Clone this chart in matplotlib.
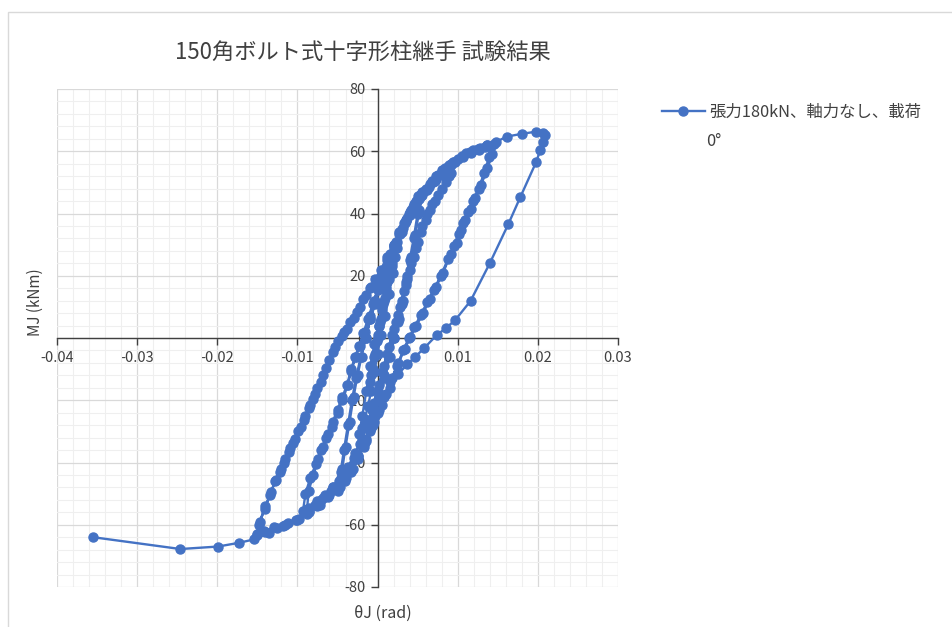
import matplotlib
matplotlib.use('Agg')
import matplotlib.pyplot as plt
from matplotlib.ticker import MultipleLocator, FuncFormatter
from matplotlib.patches import Rectangle

plt.rcParams['font.family'] = ['Noto Sans CJK JP', 'DejaVu Sans']

# 各サイクルの回転角 θJ (rad) と曲げモーメント MJ (kNm)
theta_c1 = [0, 0.0003, 0.0006, 0.0009, 0.0011, 0.0008, 0.0004, 0.0001, -0.0003, -0.0006, -0.0009, -0.0011,
            -0.0008, -0.0004, -0.0001]
m_c1 = [0, 5, 9, 13, 16, 12, 6, 1, -5, -10, -14, -17, -12, -6, -1]

theta_c2 = [0.0002, 0.0006, 0.001, 0.0014, 0.0018, 0.0022, 0.0019, 0.0014, 0.0009, 0.0004, 0.0, -0.0004,
            -0.0008, -0.0012, -0.0016, -0.002, -0.0023, -0.0019, -0.0014, -0.0009, -0.0004]
m_c2 = [4, 10, 15, 19, 23, 26, 21, 14, 7, 1, -5, -11, -17, -22, -26, -29, -31, -25, -17, -9, -2]

theta_c3 = [0.0002, 0.0007, 0.0012, 0.0018, 0.0024, 0.003, 0.0036, 0.0042, 0.0048, 0.0053, 0.005, 0.0045,
            0.004, 0.0035, 0.003, 0.0025, 0.002, 0.0014, 0.0008, 0.0002, -0.0004, -0.001, -0.0017, -0.0024,
            -0.0031, -0.0039, -0.0047, -0.0044, -0.004, -0.0035, -0.003, -0.0025, -0.002, -0.0015, -0.0009,
            -0.0003]
m_c3 = [4, 11, 18, 24, 29, 34, 38, 41, 44, 46, 40, 32, 25, 18, 11, 5, 0, -6, -12, -18, -24, -29, -34, -38,
        -42, -45, -48, -42, -35, -27, -19, -12, -6, 0, 6, 11]

theta_c4 = [0.0003, 0.0009, 0.0015, 0.0021, 0.0027, 0.0033, 0.0039, 0.0045, 0.0051, 0.0055, 0.0052, 0.0047,
            0.0042, 0.0037, 0.0032, 0.0027, 0.0021, 0.0015, 0.0009, 0.0003, -0.0003, -0.001, -0.0017, -0.0025,
            -0.0033, -0.0041, -0.0049, -0.0046, -0.0042, -0.0037, -0.0032, -0.0027, -0.0021, -0.0015, -0.0009,
            -0.0003]
m_c4 = [16, 21, 26, 30, 34, 37, 40, 43, 45.5, 47, 41, 33, 26, 19, 12, 6, 0, -6, -13, -19, -25, -30, -35, -39,
        -43, -46, -49, -43, -36, -28, -20, -13, -6, 0, 6, 12]

theta_c5 = [0.0003, 0.0009, 0.0016, 0.0023, 0.003, 0.0037, 0.0044, 0.0052, 0.006, 0.0068, 0.0076, 0.0084,
            0.0092, 0.0089, 0.0081, 0.0072, 0.0065, 0.006, 0.0054, 0.0048, 0.0042, 0.0037, 0.0033, 0.0028,
            0.0023, 0.0018, 0.0012, 0.0006, 0.0, -0.0007, -0.0014, -0.0022, -0.003, -0.0039, -0.0048, -0.0058,
            -0.0068, -0.0078, -0.0088, -0.0086, -0.008, -0.0074, -0.0068, -0.0062, -0.0056, -0.005, -0.0044,
            -0.0038, -0.0033, -0.0028, -0.0023, -0.0018, -0.0012, -0.0006]
m_c5 = [17, 22, 27, 31, 35, 38.5, 42, 45, 48, 50.5, 52.5, 54.5, 56, 52, 48, 44, 41, 38, 34, 29, 24, 20, 15,
        10, 5, 1, -5, -11, -17, -23, -29, -34, -38.5, -42.5, -46, -49, -51.5, -53.5, -55, -49, -44, -39, -35,
        -31, -27, -23, -19, -15, -10, -6, -2.5, 1.5, 6, 11]

theta_c6 = [0.0, 0.0006, 0.0013, 0.002, 0.0027, 0.0034, 0.0041, 0.0049, 0.0057, 0.0065, 0.0073, 0.0081,
            0.0089, 0.0095, 0.0092, 0.0085, 0.0076, 0.0068, 0.0062, 0.0056, 0.005, 0.0045, 0.004, 0.0035,
            0.003, 0.0025, 0.002, 0.0014, 0.0008, 0.0002, -0.0005, -0.0012, -0.002, -0.0028, -0.0037, -0.0046,
            -0.0056, -0.0066, -0.0076, -0.0086, -0.0093, -0.009, -0.0084, -0.0077, -0.0071, -0.0064, -0.0057,
            -0.005, -0.0044, -0.0037, -0.0033, -0.0027, -0.0022, -0.0016, -0.001, -0.0004]
m_c6 = [15.5, 20, 25, 29.5, 33.5, 37, 40.5, 44, 47, 49.5, 52, 54, 55.5, 56.5, 53, 50, 46, 43, 40, 36, 31,
        26, 22, 17, 12, 7.5, 3, -3, -9, -15, -21, -27, -32.5, -37, -41.5, -45, -48, -50.5, -52.5, -54.5,
        -55.5, -50, -45, -40.5, -36, -32, -28.5, -24, -20, -15, -10.5, -6, -2.5, 2, 7, 12]

theta_c7 = [0.0002, 0.0009, 0.0016, 0.0024, 0.0032, 0.004, 0.0048, 0.0056, 0.0064, 0.0073, 0.0082, 0.0091,
            0.01, 0.011, 0.0119, 0.0128, 0.0137, 0.0145, 0.0143, 0.0137, 0.0129, 0.0122, 0.0116, 0.0109,
            0.0104, 0.0099, 0.0091, 0.0082, 0.0073, 0.0065, 0.0057, 0.0048, 0.0041, 0.0034, 0.0026, 0.0018,
            0.001, 0.0002, -0.0006, -0.0015, -0.0025, -0.0036, -0.0048, -0.006, -0.0072, -0.0085, -0.0098,
            -0.0112, -0.0126, -0.014, -0.0151, -0.0148, -0.0141, -0.0134, -0.0128, -0.0122, -0.0117, -0.0111,
            -0.0106, -0.0099, -0.0092, -0.0086, -0.0081, -0.0075, -0.0068, -0.006, -0.0053, -0.0044, -0.0038,
            -0.003, -0.0022, -0.0015, -0.0008, -0.0002, 0.0005]
m_c7 = [17, 22, 26.5, 31, 35.5, 39.5, 43, 46, 48.5, 51, 53.5, 55.5, 57.5, 59.3, 60.4, 61.2, 62, 62.4, 59,
        54.5, 49, 45, 41.5, 38, 34.7, 30.5, 27, 21, 16.5, 12.5, 8, 3.8, 0.4, -3.5, -8, -13, -18, -23, -28,
        -33, -38, -42.5, -47, -50.5, -53.5, -56, -58, -59.5, -61, -62.3, -63.3, -60, -55, -50.5, -46, -43,
        -40, -36.5, -33.6, -30, -26.3, -22.5, -19.7, -16, -11.9, -7, -2.8, 0.5, 3, 6.3, 10, 13.8, 16.5,
        18.6, 21.5]

theta_c8 = [0.0012, 0.002, 0.0028, 0.0036, 0.0044, 0.0052, 0.006, 0.0069, 0.0078, 0.0087, 0.0096, 0.0106,
            0.0116, 0.0126, 0.0134, 0.0141, 0.0139, 0.0133, 0.0126, 0.0119, 0.0113, 0.0107, 0.0101, 0.0095,
            0.0088, 0.0079, 0.007, 0.0062, 0.0054, 0.0046, 0.0039, 0.0032, 0.0024, 0.0016, 0.0008, 0.0,
            -0.0008, -0.0017, -0.0027, -0.0038, -0.005, -0.0062, -0.0075, -0.0088, -0.0101, -0.0115, -0.0129,
            -0.0142, -0.015, -0.0147, -0.014, -0.0133, -0.0127, -0.0121, -0.0115, -0.0109, -0.0103, -0.0096,
            -0.009, -0.0084, -0.0078, -0.0071, -0.0064, -0.0056, -0.0049, -0.0042, -0.0034, -0.0026, -0.0018,
            -0.001, -0.0003, 0.0004, 0.0012]
m_c8 = [25, 29, 33.5, 37.5, 41, 44.5, 47.5, 50, 52.5, 54.5, 56.5, 58.3, 59.5, 60.5, 61.3, 61.8, 58, 53, 48,
        44, 40.5, 37, 33.5, 29.5, 25.5, 20, 15.5, 11.5, 7.5, 3.5, 0, -4, -9, -14, -19, -24, -29, -34, -39,
        -43.5, -47.5, -51, -54, -56.5, -58.5, -60, -60.8, -62, -63, -59, -54, -49.5, -45.5, -42, -39, -35.5,
        -32.5, -28.5, -25, -21.5, -18, -14, -9.5, -4.5, -1, 2, 5, 8.5, 12.5, 16, 19, 22, 26]

theta_c9 = [0.002, 0.0028, 0.0036, 0.0045, 0.0054, 0.0062, 0.0072, 0.0081, 0.0094, 0.0105, 0.0115, 0.0125,
            0.0137, 0.0148, 0.0161, 0.018, 0.0198, 0.0206, 0.0209, 0.0206, 0.0203, 0.0198, 0.0178, 0.0163,
            0.014, 0.0116, 0.0097, 0.0085, 0.0074, 0.0058, 0.0047, 0.0037, 0.0026, 0.0016, 0.0006, -0.0004,
            -0.0014, -0.0026, -0.004, -0.0055, -0.007, -0.0086, -0.0102, -0.0118, -0.0135, -0.0154, -0.0173,
            -0.0199, -0.0246, -0.0355]
m_c9 = [30, 34, 38, 42.5, 45.5, 47.5, 50.5, 53.4, 56.6, 58.5, 59.8, 60.8, 62, 63, 64.7, 65.6, 66.3, 66, 65.2,
        63, 60.4, 56.6, 45.2, 36.5, 24, 11.9, 5.8, 3.1, 1, -3.3, -6, -8.5, -11.5, -16, -21.5, -27, -32.5,
        -38, -43.5, -48, -52, -55.5, -58.5, -60.5, -62.5, -64.7, -65.8, -67, -67.8, -64]

theta = (theta_c1 + theta_c2 + theta_c3 + theta_c4 + theta_c5 + theta_c6 + theta_c7 + theta_c8 + theta_c9)
moment = (m_c1 + m_c2 + m_c3 + m_c4 + m_c5 + m_c6 + m_c7 + m_c8 + m_c9)

title = '150角ボルト式十字形柱継手 試験結果'
series_label = ['張力180kN、軸力なし、載荷', '0°']   # 凡例は2行に折り返し
x_label = 'θJ (rad)'
y_label = 'MJ (kNm)'

blue = '#4472C4'
axis_col = '#404040'
text_col = '#404040'

fig = plt.figure(figsize=(9.52, 6.27), dpi=100)

# グラフエリアの枠線
fig.patches.append(Rectangle((8 / 952, -0.05), 1.2, 1 - 12 / 627 + 0.05, transform=fig.transFigure,
                             fill=False, edgecolor='#d9d9d9', lw=1.0))

ax = fig.add_axes([57 / 952, 1 - 587 / 627, (618 - 57) / 952, (587 - 89) / 627])
line, = ax.plot(theta, moment, color=blue, lw=1.7, marker='o', markersize=6.5,
                markerfacecolor=blue, markeredgecolor=blue, zorder=3)

ax.set_xlim(-0.04, 0.03)
ax.set_ylim(-80, 80)
ax.xaxis.set_major_locator(MultipleLocator(0.01))
ax.xaxis.set_minor_locator(MultipleLocator(0.002))
ax.yaxis.set_major_locator(MultipleLocator(20))
ax.yaxis.set_minor_locator(MultipleLocator(4))
ax.xaxis.set_major_formatter(FuncFormatter(lambda v, p: '%g' % round(v, 3)))
ax.yaxis.set_major_formatter(FuncFormatter(lambda v, p: '%g' % round(v)))

ax.set_axisbelow(True)
ax.grid(which='major', color='#d9d9d9', lw=0.9)
ax.grid(which='minor', color='#efefef', lw=0.8)

for s in ['top', 'right']:
    ax.spines[s].set_visible(False)
ax.spines['left'].set_position(('data', 0))
ax.spines['bottom'].set_position(('data', 0))
for s in ['left', 'bottom']:
    ax.spines[s].set_color(axis_col)
    ax.spines[s].set_linewidth(1.0)
    ax.spines[s].set_zorder(2)

ax.tick_params(which='major', direction='out', length=5, width=1.0, color=axis_col,
               labelsize=10.5, labelcolor=text_col)
ax.tick_params(axis='x', which='major', pad=4)
ax.tick_params(which='minor', length=0)

fig.text(363 / 952, 1 - 52 / 627, title, ha='center', va='center', fontsize=16, color='#404040')
fig.text(383 / 952, 1 - 613 / 627, x_label, ha='center', va='center', fontsize=11.5, color=text_col)
fig.text(35 / 952, 1 - 302 / 627, y_label, ha='center', va='center', rotation=90, fontsize=11,
         color=text_col)

leg = fig.legend(handles=[line], labels=[series_label[0]], loc='center left',
                 bbox_to_anchor=(662 / 952, 1 - 112 / 627), frameon=False, fontsize=11.8,
                 handlelength=2.6, handletextpad=0.3, borderaxespad=0, borderpad=0)
for t in leg.get_texts():
    t.set_color(text_col)
fig.text(706 / 952, 1 - 142 / 627, series_label[1], ha='left', va='center', fontsize=11.8,
         color=text_col)

fig.savefig('out.png', dpi=100)
